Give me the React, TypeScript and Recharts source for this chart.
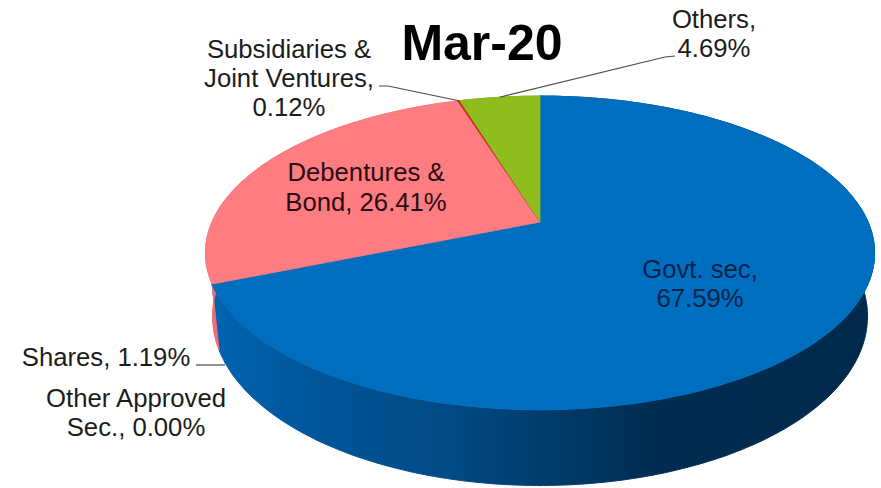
import { Pie, PieChart } from "recharts";

const categories = [
  "Govt. sec",
  "Other Approved Sec.",
  "Shares",
  "Debentures & Bond",
  "Subsidiaries & Joint Ventures",
  "Others",
];
const shares = [67.59, 0.0, 1.19, 26.41, 0.12, 4.69];
const topColors = ["#006ebf", "#006ebf", "#006ebf", "#ff7c80", "#c0281e", "#8fbd1e"];
const wallColors = ["url(#blueWall)", "url(#blueWall)", "url(#blueWall)", "#ee7076", "#a02018", "#76a018"];

const chartData = categories.map((name, i) => ({ name, value: shares[i] }));

// the pie is tilted, so the far half looks smaller than the near half
const TILT = 0.197;
const TOP_Y = 0.4595;
const BASE_X = 0.979;
const BASE_Y = 0.4957;
const BASE_DROP = 61;

const RAD = Math.PI / 180;

const rimPoint = (cx: number, cy: number, r: number, deg: number) => {
  const u = Math.cos(deg * RAD);
  const v = Math.sin(deg * RAD);
  const w = 1 + TILT * v;
  return { x: cx + (r * u) / w, y: cy - (r * TOP_Y * v) / w };
};

const basePoint = (cx: number, cy: number, r: number, deg: number) => {
  const u = Math.cos(deg * RAD);
  const v = Math.sin(deg * RAD);
  const w = 1 + TILT * v;
  return { x: cx + (r * BASE_X * u) / w, y: cy + BASE_DROP - (r * BASE_Y * v) / w };
};

const sweep = (start: number, end: number) => {
  const steps = Math.max(2, Math.ceil(Math.abs(end - start)));
  const out: number[] = [];
  for (let i = 0; i <= steps; i++) out.push(start + ((end - start) * i) / steps);
  return out;
};

const toPath = (pts: { x: number; y: number }[]) =>
  pts.map((p, i) => `${i ? "L" : "M"}${p.x.toFixed(1)} ${p.y.toFixed(1)}`).join(" ") + " Z";

const TopFace = (props: any) => {
  const { cx, cy, outerRadius, startAngle, endAngle, index } = props;
  if (startAngle === endAngle) return null;
  const rim = sweep(startAngle, endAngle).map((a) => rimPoint(cx, cy, outerRadius, a));
  const fill = topColors[index];
  // same-coloured slices get a wider stroke so no seam shows between them
  return <path d={toPath([{ x: cx, y: cy }, ...rim])} fill={fill} stroke={fill} strokeWidth={index < 3 ? 1.2 : 0.8} />;
};

const SideWall = (props: any) => {
  const { cx, cy, outerRadius, startAngle, endAngle, index } = props;
  if (startAngle === endAngle) return null;
  const angles = sweep(startAngle, endAngle);
  const upper = angles.map((a) => rimPoint(cx, cy, outerRadius, a));
  const lower = angles.map((a) => basePoint(cx, cy, outerRadius, a)).reverse();
  const fill = wallColors[index];
  return <path d={toPath([...upper, ...lower])} fill={fill} stroke={fill} strokeWidth={1} />;
};

const labelLayout: Record<string, { lines: string[]; x: number; y: number; fill: string; gap?: number; leader?: number[][]; toRim?: boolean }> = {
  "Govt. sec": { lines: ["Govt. sec,", "67.59%"], x: 700, y: 278, fill: "#06234a" },
  "Other Approved Sec.": { lines: ["Other Approved", "Sec., 0.00%"], x: 136, y: 407, fill: "#1c1c1c" },
  Shares: { lines: ["Shares, 1.19%"], x: 106, y: 366, fill: "#1c1c1c", leader: [[196, 365], [225, 365]] },
  "Debentures & Bond": { lines: ["Debentures &", "Bond, 26.41%"], x: 366, y: 181, fill: "#2a0c12", gap: 30 },
  "Subsidiaries & Joint Ventures": {
    lines: ["Subsidiaries &", "Joint Ventures,", "0.12%"],
    x: 289,
    y: 58,
    fill: "#1c1c1c",
    leader: [[379, 86], [388, 86]],
    toRim: true,
  },
  Others: { lines: ["Others,", "4.69%"], x: 714, y: 28, fill: "#1c1c1c", leader: [[675, 56], [665, 57]], toRim: true },
};

const SliceLabel = (props: any) => {
  const { name, cx, cy, outerRadius, midAngle } = props;
  const spot = labelLayout[name];
  if (!spot) return null;
  let points = spot.leader;
  if (points && spot.toRim) {
    const end = rimPoint(cx, cy, outerRadius, midAngle);
    points = [...points, [end.x, end.y]];
  }
  return (
    <g>
      {points && <polyline points={points.map((p) => p.join(",")).join(" ")} fill="none" stroke="#4a4a4a" strokeWidth={1.2} />}
      <text x={spot.x} fontFamily="Liberation Sans" fontSize={25.7} fill={spot.fill} textAnchor="middle">
        {spot.lines.map((line, i) => (
          <tspan key={line} x={spot.x} y={spot.y + i * (spot.gap ?? 29)}>
            {line}
          </tspan>
        ))}
      </text>
    </g>
  );
};

export default function App() {
  return (
    <div style={{ position: "absolute", left: 0, top: 0, width: 881, height: 488 }}>
      <PieChart width={881} height={488} margin={{ top: 0, right: 0, bottom: 0, left: 0 }}>
        <defs>
          <linearGradient id="blueWall" gradientUnits="userSpaceOnUse" x1="215" y1="0" x2="870" y2="0">
            <stop offset="0" stopColor="#0064b0" />
            <stop offset="0.13" stopColor="#00579c" />
            <stop offset="0.36" stopColor="#004a85" />
            <stop offset="0.53" stopColor="#003a68" />
            <stop offset="0.68" stopColor="#002c50" />
            <stop offset="1" stopColor="#002a4c" />
          </linearGradient>
        </defs>
        <Pie
          data={chartData}
          dataKey="value"
          nameKey="name"
          cx={540}
          cy={222}
          innerRadius={0}
          outerRadius={328}
          startAngle={90}
          endAngle={-270}
          stroke="none"
          shape={SideWall}
          isAnimationActive={false}
        />
        <Pie
          data={chartData}
          dataKey="value"
          nameKey="name"
          cx={540}
          cy={222}
          innerRadius={0}
          outerRadius={328}
          startAngle={90}
          endAngle={-270}
          stroke="none"
          shape={TopFace}
          label={SliceLabel}
          labelLine={false}
          isAnimationActive={false}
        />
        <text x={482} y={60} textAnchor="middle" fontFamily="Liberation Sans" fontWeight="bold" fontSize={50} fill="#000">
          Mar-20
        </text>
      </PieChart>
    </div>
  );
}
